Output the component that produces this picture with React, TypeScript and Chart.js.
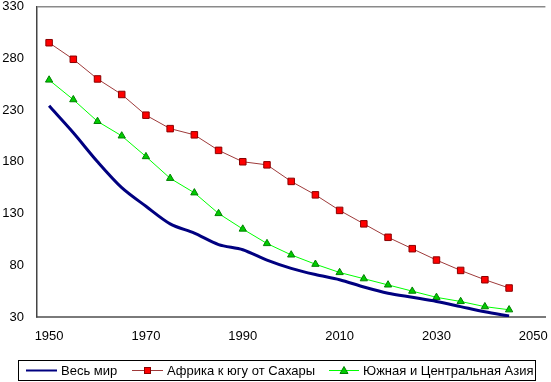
import React, { useEffect, useRef } from "react";
import { Chart, registerables } from "chart.js";

Chart.register(...registerables);

const years: string[] = [
  "1950", "1955", "1960", "1965", "1970", "1975", "1980", "1985", "1990", "1995",
  "2000", "2005", "2010", "2015", "2020", "2025", "2030", "2035", "2040", "2045", "2050",
];

const worldValues: (number | null)[] = [
  234, 208, 180, 155, 137, 120, 111, 100, 95, 85,
  77, 71, 66, 59, 53, 49, 45, 40, 35, 31, null,
];

const africaValues: (number | null)[] = [
  295, 279, 260, 245, 225, 212, 206, 191, 180, 177,
  161, 148, 133, 120, 107, 96, 85, 75, 66, 58, null,
];

const asiaValues: (number | null)[] = [
  259, 240, 219, 205, 185, 164, 150, 130, 115, 101,
  90, 81, 73, 67, 61, 55, 49, 45, 40, 37, null,
];

const seriesNames: string[] = [
  "Весь мир",
  "Африка к югу от Сахары",
  "Южная и Центральная Азия",
];

const yMin = 30;
const yMax = 330;
const yStep = 50;

const FONT = "'Liberation Sans', Arial, sans-serif";

const legendPlugin = {
  id: "boxLegend",
  afterDraw(chart: any) {
    const ctx = chart.ctx as CanvasRenderingContext2D;
    ctx.save();
    // box
    ctx.strokeStyle = "#000";
    ctx.lineWidth = 1;
    ctx.strokeRect(18.5, 360.5, 517, 20);
    const cy = 370.5;
    ctx.font = `13px ${FONT}`;
    ctx.fillStyle = "#000";
    ctx.textBaseline = "middle";
    ctx.textAlign = "left";

    const items = [
      { x0: 26, x1: 57, tx: 61, color: "#000080", w: 2, marker: "none" },
      { x0: 132, x1: 163, tx: 167, color: "#9E3A3A", w: 1, marker: "rect" },
      { x0: 329, x1: 359, tx: 363, color: "#00FF00", w: 1, marker: "tri" },
    ];
    items.forEach((it, i) => {
      ctx.strokeStyle = it.color;
      ctx.lineWidth = it.w;
      ctx.beginPath();
      ctx.moveTo(it.x0, cy);
      ctx.lineTo(it.x1, cy);
      ctx.stroke();
      const mx = (it.x0 + it.x1) / 2;
      if (it.marker === "rect") {
        ctx.fillStyle = "#FF0000";
        ctx.strokeStyle = "#8B0000";
        ctx.lineWidth = 1;
        ctx.fillRect(mx - 3, cy - 3, 6, 6);
        ctx.strokeRect(mx - 3, cy - 3, 6, 6);
      } else if (it.marker === "tri") {
        ctx.fillStyle = "#00CC00";
        ctx.strokeStyle = "#008000";
        ctx.lineWidth = 1;
        ctx.beginPath();
        ctx.moveTo(mx, cy - 4);
        ctx.lineTo(mx + 4, cy + 3);
        ctx.lineTo(mx - 4, cy + 3);
        ctx.closePath();
        ctx.fill();
        ctx.stroke();
      }
      ctx.fillStyle = "#000";
      ctx.fillText(seriesNames[i], it.tx, cy + 0.5);
    });
    ctx.restore();
  },
};

export default function App() {
  const canvasRef = useRef<HTMLCanvasElement | null>(null);

  useEffect(() => {
    if (!canvasRef.current) return;
    const chart = new Chart(canvasRef.current, {
      type: "line",
      data: {
        labels: years,
        datasets: [
          {
            label: seriesNames[0],
            data: worldValues,
            borderColor: "#000080",
            borderWidth: 3,
            pointRadius: 0,
            tension: 0.3,
            fill: false,
          },
          {
            label: seriesNames[1],
            data: africaValues,
            borderColor: "#9E3A3A",
            borderWidth: 1,
            pointStyle: "rect",
            pointRadius: 4.6,
            pointBackgroundColor: "#FF0000",
            pointBorderColor: "#8B0000",
            pointBorderWidth: 1,
            tension: 0,
            fill: false,
          },
          {
            label: seriesNames[2],
            data: asiaValues,
            borderColor: "#00FF00",
            borderWidth: 1,
            pointStyle: "triangle",
            pointRadius: 4.2,
            pointBackgroundColor: "#00CC00",
            pointBorderColor: "#008000",
            pointBorderWidth: 1,
            tension: 0,
            fill: false,
          },
        ],
      },
      options: {
        responsive: false,
        animation: false,
        layout: { padding: { top: 6.5, right: 4.5, bottom: 35, left: 0 } },
        plugins: {
          legend: { display: false },
          tooltip: { enabled: false },
        },
        scales: {
          x: {
            type: "category",
            offset: true,
            grid: { display: false, drawTicks: false },
            border: { display: true, color: "#7A7A7A", width: 2 },
            ticks: {
              autoSkip: false,
              maxRotation: 0,
              padding: 12,
              color: "#000",
              font: { family: FONT, size: 13 },
              callback: (_v: any, idx: number) => (idx % 4 === 0 ? years[idx] : null),
            },
            afterFit: (scale: any) => {
              scale.height = 30;
              scale.paddingLeft = 0;
              scale.paddingRight = 0;
            },
          },
          y: {
            min: yMin,
            max: yMax,
            grid: {
              drawTicks: false,
              color: (c: any) => (c.tick && c.tick.value === yMax ? "#8A8A8A" : "rgba(0,0,0,0)"),
              lineWidth: 1.5,
            },
            border: { display: true, color: "#444", width: 1.5 },
            ticks: {
              stepSize: yStep,
              padding: 13,
              color: "#000",
              font: { family: FONT, size: 13 },
            },
            afterFit: (scale: any) => {
              scale.width = 37;
              scale.paddingTop = 0;
              scale.paddingBottom = 0;
            },
          },
        },
      },
      plugins: [legendPlugin],
    });
    return () => chart.destroy();
  }, []);

  return (
    <div style={{ position: "absolute", left: 0, top: 0, width: 551, height: 382, background: "#fff" }}>
      <canvas ref={canvasRef} width={551} height={382} style={{ display: "block" }} />
    </div>
  );
}
